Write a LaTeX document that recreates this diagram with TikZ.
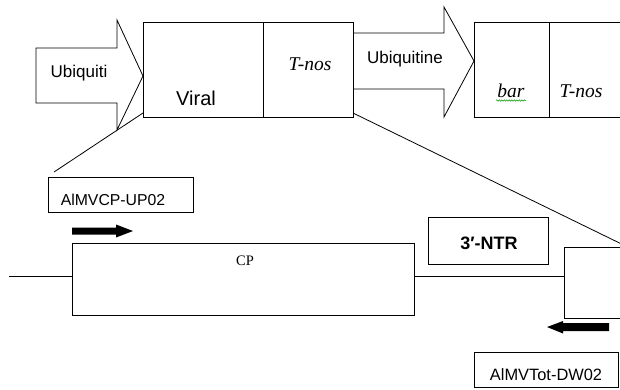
\documentclass[tikz,border=0pt]{standalone}
\usepackage{fontspec}
\setmainfont{Liberation Serif}
\setsansfont{Liberation Sans}
\usetikzlibrary{decorations.pathmorphing}
\begin{document}
\begin{tikzpicture}[x=1pt,y=-1pt,line width=0.8pt,
  blk/.style={draw,anchor=north west,inner sep=0pt,outer sep=0pt},
  lbl/.style={anchor=base,inner sep=0pt,font=\sffamily\fontsize{17}{20}\selectfont},
  ital/.style={anchor=base,inner sep=0pt,font=\rmfamily\itshape\fontsize{19.5}{22}\selectfont},
  primer/.style={anchor=base,inner sep=0pt,font=\sffamily\fontsize{15.8}{18}\selectfont},
  bigarrow/.style={draw,fill=white,line join=miter},
  fatarrow/.style={fill=black,draw=none}]
\useasboundingbox (0,0) rectangle (620,389);
\clip (0,0) rectangle (620,389);
% block arrows
\draw[bigarrow] (36,48) -- (117,48) -- (117,20) -- (143,76) -- (117,130) -- (117,103) -- (36,103) -- cycle;
\node[lbl] (ubi) at (79,77) {Ubiquiti};
\draw[bigarrow] (353,33) -- (444,33) -- (444,7) -- (474,61) -- (444,117) -- (444,89) -- (353,89);
\node[lbl] (ubine) at (405,63) {Ubiquitine};
% upper boxes
\node[blk,minimum width=120pt,minimum height=95pt] (viral) at (143,22) {};
\node[blk,minimum width=90pt,minimum height=95pt] (tnos1) at (263,22) {};
\node[blk,minimum width=75pt,minimum height=95pt] (bar) at (474,22) {};
\node[blk,minimum width=100pt,minimum height=95pt] (tnos2) at (549,22) {};
\node[lbl,font=\sffamily\fontsize{20}{24}\selectfont] (viraltxt) at (196,105) {Viral};
\node[ital] (tnos1txt) at (310,70) {T-nos};
\node[ital] (bartxt) at (511,97) {bar};
\node[ital] (tnos2txt) at (581,97) {T-nos};
\draw[green!60!black,line width=0.5pt,decorate,decoration={snake,amplitude=0.7pt,segment length=2.5pt}] (496,100.5) -- (526,100.5);
% zoom lines
\coordinate (zl) at (54,172);
\coordinate (zr) at (640,253);
\draw (viral.south west) ++(0,-4) coordinate (vl) -- (zl);
\draw (tnos1.south east) ++(0,-4) coordinate (vr) -- (zr);
% primer label boxes
\node[blk,minimum width=145pt,minimum height=35pt] (up) at (48,177) {};
\node[primer] (uptxt) at (113,205) {AlMVCP-UP02};
\node[blk,minimum width=144pt,minimum height=35pt] (dw) at (474,352) {};
\node[primer,font=\sffamily\fontsize{16.4}{19}\selectfont] (dwtxt) at (546,380) {AlMVTot-DW02};
% primer arrows
\fill[fatarrow] (72,227.5) -- (116,227.5) -- (116,224.5) -- (133,231) -- (116,237.5) -- (116,234.5) -- (72,234.5) -- cycle;
\fill[fatarrow] (609,323) -- (563,323) -- (563,321) -- (547,327) -- (563,333.5) -- (563,331) -- (609,331) -- cycle;
% lower construct
\node[blk,minimum width=342pt,minimum height=72pt] (cp) at (72,243) {};
\node[anchor=base,inner sep=0pt,font=\rmfamily\fontsize{14.5}{17}\selectfont] (cptxt) at (245,265) {CP};
\node[blk,minimum width=80pt,minimum height=71pt] (rbox) at (564,247) {};
\node[blk,minimum width=120pt,minimum height=47pt] (ntr) at (428,217) {};
\node[anchor=base,inner sep=0pt,font=\sffamily\bfseries\fontsize{18}{21}\selectfont] (ntrtxt) at (489,249) {3′-NTR};
\coordinate (lend) at (9,276);
\draw (lend) -- (lend -| cp.west);
\draw (cp.east |- lend) -- (rbox.west |- lend);
\end{tikzpicture}
\end{document}
